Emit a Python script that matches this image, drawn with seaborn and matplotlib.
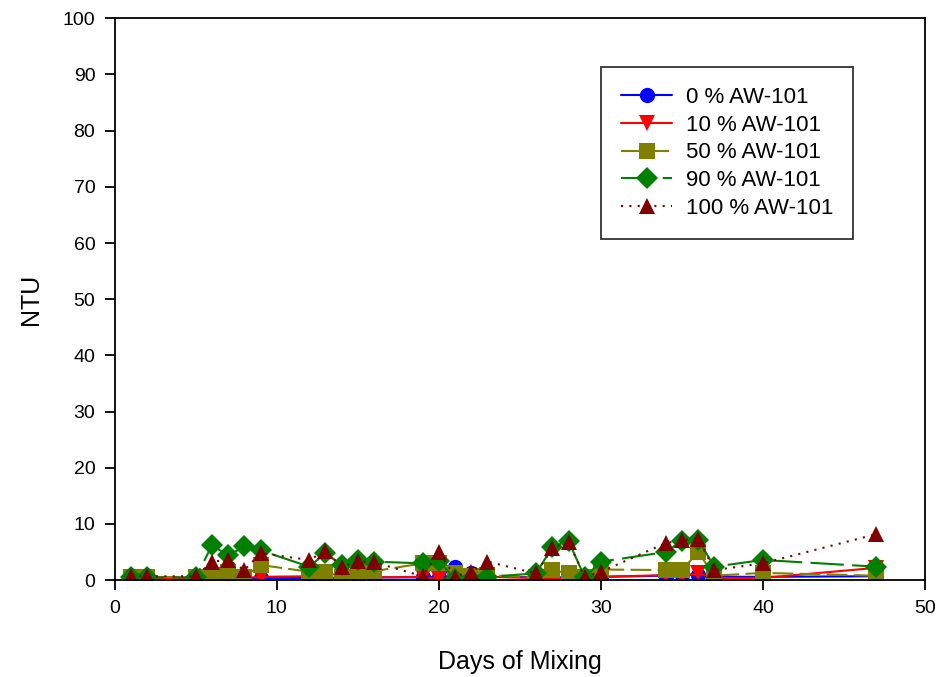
import pandas as pd
import matplotlib
matplotlib.use('Agg')
import matplotlib.pyplot as plt
import seaborn as sns

# Turbidity data
days = [1, 2, 5, 6, 7, 8, 9, 12, 13, 14, 15, 16, 19, 20, 21, 22, 23,
        26, 27, 28, 29, 30, 34, 35, 36, 37, 40, 47]
aw0 = [0.5, 0.5, 0.4, 0.4, 0.4, 0.4, 0.4, 0.4, 0.4, 0.4, 0.5, 0.5, 0.5, 0.6,
       2.3, 1.3, 0.6, 0.5, 0.5, 0.5, 0.5, 0.6, 0.8, 0.9, 1.0, 0.6, 0.6, 0.7]
aw10 = [0.4, 0.4, 0.4, 0.5, 0.4, 0.4, 0.6, 0.7, 0.5, 0.4, 0.5, 0.5, 0.6, 0.2,
        0.4, 0.3, 0.6, 0.4, 0.3, 0.4, 0.3, 0.6, 0.9, 0.8, 1.2, 0.4, 0.4, 2.2]
aw50 = [0.6, 0.6, 0.5, 0.9, 1.5, 0.6, 2.7, 1.5, 1.5, 0.6, 1.5, 1.6, 3.0, 3.0,
        1.2, 0.8, 0.9, 0.5, 1.8, 1.2, 0.5, 1.9, 1.8, 1.8, 5.0, 0.8, 1.3, 0.8]
aw90 = [0.5, 0.5, 0.5, 6.2, 4.4, 6.0, 5.3, 2.4, 4.8, 2.7, 3.6, 3.3, 3.0, 3.4,
        0.2, 0.3, 0.6, 1.2, 5.9, 7.0, 0.5, 3.3, 5.0, 7.0, 7.2, 2.4, 3.6, 2.4]
aw100 = [0.7, 0.7, 0.7, 3.3, 3.6, 1.8, 4.8, 3.6, 5.2, 2.4, 3.4, 3.2, 0.7, 5.0,
         0.6, 1.5, 3.3, 1.2, 5.7, 6.8, 0.6, 1.5, 6.6, 7.1, 7.4, 1.8, 3.0, 8.2]

labels = ['0 % AW-101', '10 % AW-101', '50 % AW-101', '90 % AW-101', '100 % AW-101']
series = [aw0, aw10, aw50, aw90, aw100]
colors = ['#0000FF', '#FF0000', '#808000', '#008000', '#800000']
markers = ['o', 'v', 's', 'D', '^']
dash_styles = ['-', '-', (0, (10, 3)), (0, (16, 4)), (0, (1, 3))]

sns.set_style('white')
plt.rcParams['font.family'] = ['Liberation Sans', 'DejaVu Sans']
plt.rcParams['text.color'] = 'black'
plt.rcParams['axes.labelcolor'] = 'black'
plt.rcParams['xtick.color'] = 'black'
plt.rcParams['ytick.color'] = 'black'

fig = plt.figure(figsize=(9.41, 6.77), dpi=100)
ax = fig.add_axes([0.122, 0.143, 0.861, 0.830])

for lab, vals, c, m, ls in zip(labels, series, colors, markers, dash_styles):
    df = pd.DataFrame({'day': days, 'ntu': vals})
    sns.lineplot(data=df, x='day', y='ntu', ax=ax, color=c, marker=m,
                 markersize=11, markeredgewidth=0, linestyle=ls,
                 linewidth=1.5, label=lab)

ax.set_xlim(0, 50)
ax.set_ylim(0, 100)
ax.set_xticks(range(0, 51, 10))
ax.set_yticks(range(0, 101, 10))
ax.tick_params(direction='out', length=7, width=1.3, labelsize=14, pad=7,
               bottom=True, left=True, colors='black')
for sp in ax.spines.values():
    sp.set_color('black')
    sp.set_linewidth(1.3)

ax.set_xlabel('Days of Mixing', fontsize=18, labelpad=24)
ax.set_ylabel('NTU', fontsize=18, labelpad=14)

leg = ax.legend(loc='upper right', bbox_to_anchor=(0.911, 0.913),
                borderaxespad=0, fontsize=16, frameon=True, fancybox=False,
                handlelength=2.3, handletextpad=0.6, borderpad=0.9,
                labelspacing=0.3)
leg.get_frame().set_edgecolor('black')
leg.get_frame().set_linewidth(1.3)
for t in leg.get_texts():
    t.set_color('black')

fig.savefig('out.png', dpi=100)
